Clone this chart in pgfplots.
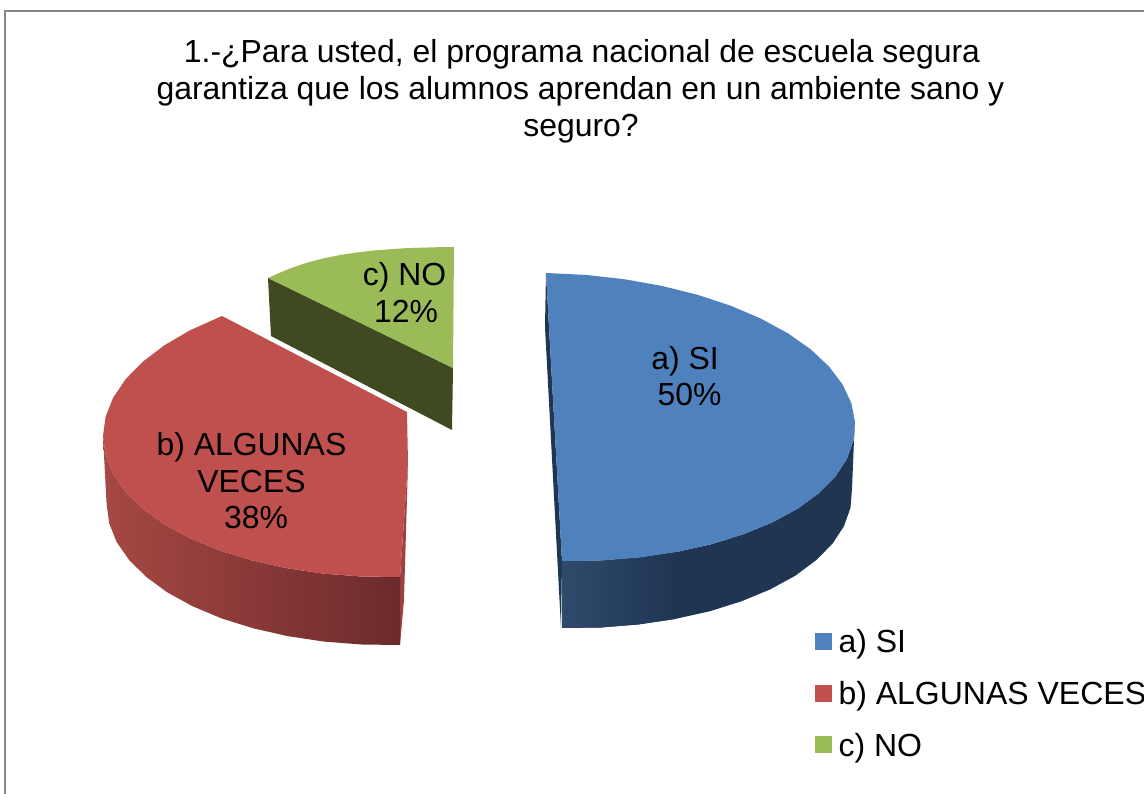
\documentclass[border=0pt]{standalone}
\usepackage{fontspec}
\setmainfont{Liberation Sans}
\usepackage{pgfplots}
\pgfplotsset{compat=1.18}
\definecolor{bluetop}{HTML}{4F81BD}
\definecolor{bluedark}{HTML}{1F3552}
\definecolor{blueleft}{HTML}{2E4A6C}
\definecolor{redtop}{HTML}{C0504D}
\definecolor{redleft}{HTML}{A64843}
\definecolor{redright}{HTML}{6C2A2B}
\definecolor{redsliver}{HTML}{9C4240}
\definecolor{greentop}{HTML}{9BBB59}
\definecolor{greendark}{HTML}{3F4A20}
\definecolor{framegray}{HTML}{868686}
\newcommand{\lab}[3]{\node[anchor=base,inner sep=0pt,font=\fontsize{31.9}{36.8}\selectfont] at (axis cs:#1,#2) {#3};}
\begin{document}
\begin{tikzpicture}
\useasboundingbox (0,0) rectangle (1144pt,794pt);
\begin{axis}[
  at={(0,0)},anchor=south west,
  scale only axis,width=1144pt,height=794pt,
  xmin=0,xmax=1144,ymin=0,ymax=794,y dir=reverse,
  hide axis,
  legend image code/.code={\path[#1,draw=none] (0pt,-8pt) rectangle (17pt,9pt);\path (23.5pt,0pt);},
  legend cell align=left,
  legend style={at={(axis cs:815,629.5)},anchor=north west,draw=none,fill=none,
    inner sep=0pt,outer sep=0pt,row sep=27pt,
    font=\fontsize{32}{36.8}\selectfont,
    nodes={inner sep=0pt,outer sep=0pt}},
]
% frame
\addplot[forget plot,draw=framegray,line width=2pt] coordinates {(5,794)(5,11)(1144,11)};

% a) SI -- inner sliver
\addplot[forget plot,draw=none,fill=bluedark] coordinates {(546,273)(545,327)(561,628)(562,561)} --cycle;
% a) SI -- outer side
\addplot[forget plot,draw=none,fill=bluedark] coordinates {
 (855,422)(853.4,440.8)(846.8,459.1)(835.2,476.7)(818.7,493.3)(797.7,508.7)(772.5,522.3)(743.5,534.2)(711.4,544.2)(676.6,551.9)(639.6,557.4)(601.2,560.5)(562,561)
 (562,628)(600.8,627.5)(638.8,624.4)(675.5,618.9)(710,611.2)(741.7,601.2)(770.4,589.3)(795.3,575.7)(816,560.3)(832.5,543.7)(844,526.1)(850.5,507.8)(852,489)(854,440)} --cycle;
\addplot[forget plot,draw=none,left color=blueleft,right color=bluedark] coordinates {
 (562,561)(601.2,560.5)(639.6,557.4)(676.6,551.9)(675.5,618.9)(638.8,624.4)(600.8,627.5)(562,628)} --cycle;
% a) SI -- top
\addplot[draw=none,fill=bluetop] coordinates {
 (546,273)(585.4,274.9)(624.2,279.2)(661.8,285.9)(697.6,294.8)(730.9,305.8)(761.1,318.7)(787.9,333.3)(810.7,349.3)(829,366.5)(842.6,384.5)(851.4,403.2)(855,422)
 (853.4,440.8)(846.8,459.1)(835.2,476.7)(818.7,493.3)(797.7,508.7)(772.5,522.3)(743.5,534.2)(711.4,544.2)(676.6,551.9)(639.6,557.4)(601.2,560.5)(562,561)} --cycle;
\addlegendentry{a) SI}

% b) ALGUNAS VECES -- sliver
\addplot[forget plot,draw=none,fill=redsliver] coordinates {(408,463)(400,577)(400,645)(404,600)} --cycle;
% b) -- outer side
\addplot[forget plot,draw=none,left color=redleft,right color=redright] coordinates {
 (400,577)(361.2,576.5)(323.1,573.6)(286.3,568.1)(251.5,560.3)(219.2,550.3)(190,538.2)(164.4,524.3)(142.8,508.7)(125.6,491.8)(113.1,473.8)(105.6,455.1)(103,436)
 (106.6,504)(109.2,523.1)(116.5,541.8)(129,559.8)(146,576.7)(167.2,592.3)(192.5,606.2)(221.3,618.3)(253.3,628.3)(287.6,636.1)(324,641.6)(361.5,644.5)(400,645)} --cycle;
% b) -- top
\addplot[draw=none,fill=redtop] coordinates {
 (407,412)(408,463)(400,577)(361.2,576.5)(323.1,573.6)(286.3,568.1)(251.5,560.3)(219.2,550.3)(190,538.2)(164.4,524.3)(142.8,508.7)(125.6,491.8)(113.1,473.8)(105.6,455.1)(103,436)
 (105.6,416.7)(113.1,397.8)(125.6,379.2)(142.8,361.7)(164.4,345.3)(190,330.3)(222,316)} --cycle;
\addlegendentry{b) ALGUNAS VECES}

% c) NO -- inner side
\addplot[forget plot,draw=none,fill=greendark] coordinates {(268,278)(453,368)(452,430)(271,336)} --cycle;
% c) NO -- top
\addplot[draw=none,fill=greentop] coordinates {
 (268,278)(278,273.5)(290,268.5)(306,263)(323,258.5)(340,255)(357,252.5)(373,250.5)(390,249.2)(406,248.2)(423,247.6)(439,247.2)(454,247)(453,368)} --cycle;
\addlegendentry{c) NO}

% title
\lab{582}{62.5}{1.-¿Para usted, el programa nacional de escuela segura}
\lab{580.5}{99.5}{garantiza que los alumnos aprendan en un ambiente sano y}
\lab{581}{136.5}{seguro?}
% data labels
\lab{685}{370}{a) SI}
\lab{689.5}{406}{50\%}
\lab{251.5}{455}{b) ALGUNAS}
\lab{251.5}{492}{VECES}
\lab{256}{528}{38\%}
\lab{404.5}{286}{c) NO}
\lab{406}{323}{12\%}
\end{axis}
\end{tikzpicture}
\end{document}
